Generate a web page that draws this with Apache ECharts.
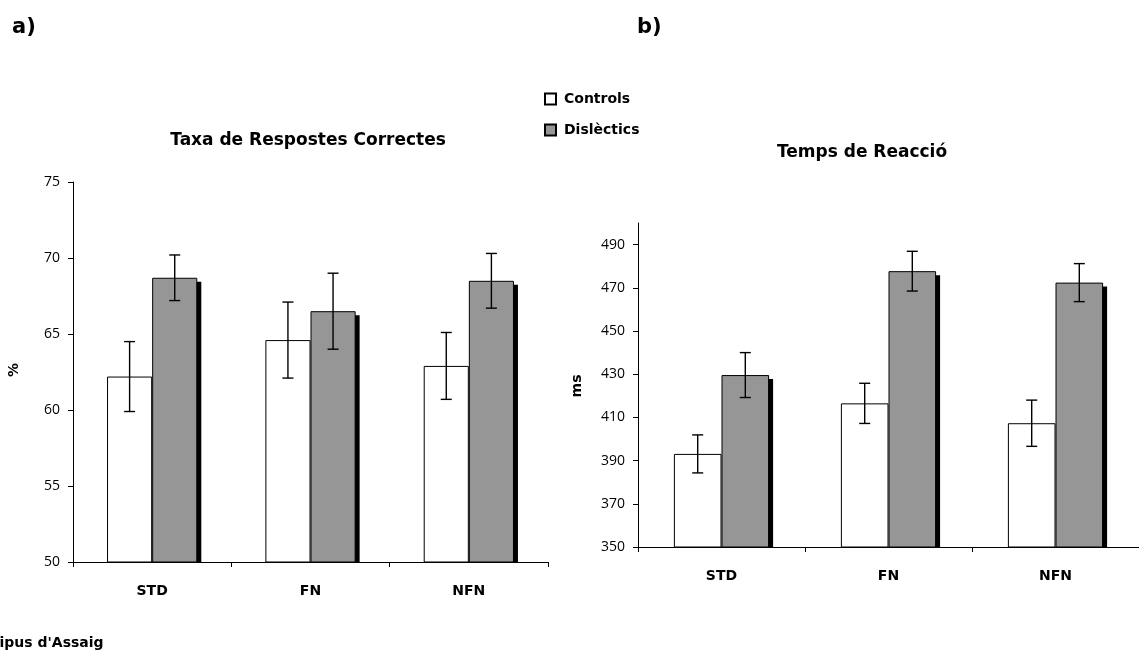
<!DOCTYPE html>
<html>
<head>
<meta charset="utf-8">
<script src="https://cdn.jsdelivr.net/npm/echarts@6/dist/echarts.min.js"></script>
<style>
  html, body { margin: 0; padding: 0; background: #fff; }
  #chart { width: 1139px; height: 653px; }
</style>
</head>
<body>
<div id="chart"></div>
<script>
// Trial types and groups
const categories = ['STD', 'FN', 'NFN'];
const groups = ['Controls', 'Dislèctics'];

// a) Correct response rate (%), mean and error
const accControls = [62.2, 64.6, 62.9];
const accControlsErr = [2.3, 2.5, 2.2];
const accDyslexic = [68.7, 66.5, 68.5];
const accDyslexicErr = [1.5, 2.5, 1.8];

// b) Reaction time (ms), mean and error
const rtControls = [393.1, 416.5, 407.3];
const rtControlsErr = [8.8, 9.3, 10.7];
const rtDyslexic = [429.6, 477.7, 472.4];
const rtDyslexicErr = [10.4, 9.2, 8.8];

// Axis tick values
const accTicks = [50, 55, 60, 65, 70, 75];
const rtTicks = [350, 370, 390, 410, 430, 450, 470, 490];
const rtMax = 500;

const GAP = 0.43;            // bar category gap (fraction of band)
const NUM_FONT = '"Open Sans", sans-serif';
const BOLD_FONT = '"DejaVu Sans", sans-serif';

function barWidthOf(api) {
  return api.size([1, 0])[0] * (1 - GAP) / 2;
}

// Error bars: vertical whisker with caps, side -1 = left bar, +1 = right bar
function errorSeries(axisIdx, values, errs, side) {
  return {
    type: 'custom',
    xAxisIndex: axisIdx, yAxisIndex: axisIdx,
    z: 5, silent: true,
    data: values.map((v, i) => [i, v - errs[i], v + errs[i]]),
    renderItem(params, api) {
      const bw = barWidthOf(api);
      const pLo = api.coord([api.value(0), api.value(1)]);
      const pHi = api.coord([api.value(0), api.value(2)]);
      const cx = pLo[0] + side * bw / 2;
      const cap = 5.5;
      const style = { stroke: '#000', lineWidth: 1.4 };
      return {
        type: 'group',
        children: [
          { type: 'line', shape: { x1: cx, y1: pHi[1], x2: cx, y2: pLo[1] }, style },
          { type: 'line', shape: { x1: cx - cap, y1: pHi[1], x2: cx + cap, y2: pHi[1] }, style },
          { type: 'line', shape: { x1: cx - cap, y1: pLo[1], x2: cx + cap, y2: pLo[1] }, style }
        ]
      };
    }
  };
}

// Solid drop shadow behind the right-hand bars, stopping at the baseline
function shadowSeries(axisIdx, values, base) {
  return {
    type: 'custom',
    xAxisIndex: axisIdx, yAxisIndex: axisIdx,
    z: 1, silent: true,
    data: values.map((v, i) => [i, v]),
    renderItem(params, api) {
      const bw = barWidthOf(api);
      const top = api.coord([api.value(0), api.value(1)]);
      const bottom = api.coord([api.value(0), base])[1];
      const off = 4;
      return {
        type: 'rect',
        shape: { x: top[0] + off, y: top[1] + off, width: bw, height: bottom - top[1] - off },
        style: { fill: '#000' }
      };
    }
  };
}

function barSeries(name, axisIdx, values, color) {
  return {
    name, type: 'bar',
    xAxisIndex: axisIdx, yAxisIndex: axisIdx,
    data: values,
    barGap: '0%',
    barCategoryGap: (GAP * 100) + '%',
    z: 2,
    itemStyle: { color, borderColor: '#000', borderWidth: 1 },
    emphasis: { disabled: true }
  };
}

function xAxisFor(gridIndex) {
  return {
    type: 'category', gridIndex, data: categories,
    axisLine: { lineStyle: { color: '#000', width: 1 } },
    axisTick: { show: true, length: 5, lineStyle: { color: '#000' } },
    axisLabel: { color: '#000', fontFamily: BOLD_FONT, fontWeight: 'bold', fontSize: 14, margin: 22 },
    splitLine: { show: false }
  };
}

const textEl = (text, x, y, size, opts = {}) => Object.assign({
  type: 'text', x, y,
  style: {
    text, fill: '#000',
    font: 'bold ' + size + 'px ' + BOLD_FONT,
    align: opts.align || 'center', verticalAlign: 'middle',
    textAlign: opts.align || 'center', textVerticalAlign: 'middle'
  }
}, opts.rotation ? { rotation: opts.rotation } : {});

const chart = echarts.init(document.getElementById('chart'), null, { renderer: 'canvas' });

chart.setOption({
  animation: false,
  backgroundColor: '#fff',
  grid: [
    { left: 73, top: 182, width: 475, height: 380 },
    { left: 638, top: 223, width: 503, height: 324 }
  ],
  xAxis: [xAxisFor(0), xAxisFor(1)],
  yAxis: [
    {
      type: 'value', gridIndex: 0,
      min: accTicks[0], max: accTicks[accTicks.length - 1], interval: 5,
      axisLine: { show: true, lineStyle: { color: '#000', width: 1 } },
      axisTick: { show: true, length: 5, lineStyle: { color: '#000' } },
      axisLabel: { color: '#000', fontFamily: NUM_FONT, fontSize: 14, margin: 13 },
      splitLine: { show: false }
    },
    {
      type: 'value', gridIndex: 1,
      min: rtTicks[0], max: rtMax, interval: 20,
      axisLine: { show: true, lineStyle: { color: '#000', width: 1 } },
      axisTick: { show: true, length: 5, lineStyle: { color: '#000' }, customValues: rtTicks },
      axisLabel: { color: '#000', fontFamily: NUM_FONT, fontSize: 14, margin: 13, customValues: rtTicks },
      splitLine: { show: false }
    }
  ],
  legend: {
    data: groups,
    orient: 'vertical',
    left: 544, top: 92,
    padding: 0,
    itemWidth: 11, itemHeight: 11, itemGap: 17,
    icon: 'rect',
    selectedMode: false,
    textStyle: { color: '#000', fontFamily: BOLD_FONT, fontWeight: 'bold', fontSize: 14, padding: [0, 0, 0, 3] }
  },
  series: [
    shadowSeries(0, accDyslexic, accTicks[0]),
    barSeries(groups[0], 0, accControls, '#ffffff'),
    barSeries(groups[1], 0, accDyslexic, '#969696'),
    errorSeries(0, accControls, accControlsErr, -1),
    errorSeries(0, accDyslexic, accDyslexicErr, 1),

    shadowSeries(1, rtDyslexic, rtTicks[0]),
    barSeries(groups[0], 1, rtControls, '#ffffff'),
    barSeries(groups[1], 1, rtDyslexic, '#969696'),
    errorSeries(1, rtControls, rtControlsErr, -1),
    errorSeries(1, rtDyslexic, rtDyslexicErr, 1)
  ],
  graphic: [
    textEl('a)', 12, 28, 21, { align: 'left' }),
    textEl('b)', 637, 28, 21, { align: 'left' }),
    textEl('Taxa de Respostes Correctes', 308, 141, 17),
    textEl('Temps de Reacció', 862, 153, 17),
    textEl('%', 14, 370, 14, { rotation: Math.PI / 2 }),
    textEl('ms', 577, 386, 14, { rotation: Math.PI / 2 }),
    textEl("Tipus d'Assaig", -10, 643, 14, { align: 'left' })
  ]
});
</script>
</body>
</html>
